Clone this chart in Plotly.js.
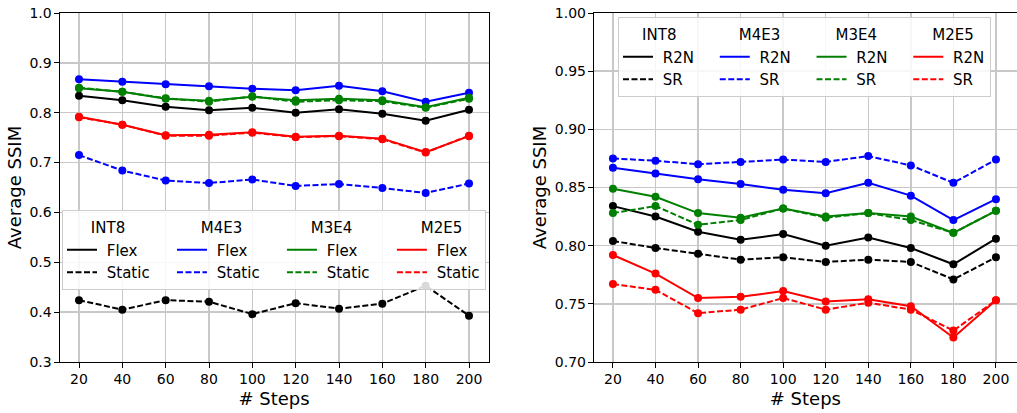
<!DOCTYPE html>
<html>
<head>
<meta charset="utf-8">
<script src="https://cdn.plot.ly/plotly-3.0.1.min.js"></script>
<style>html,body{margin:0;padding:0;background:#fff}#chart{width:1017px;height:413px}</style>
</head>
<body>
<div id="chart"></div>
<script>
// ---------- data ----------
var steps = [20, 40, 60, 80, 100, 120, 140, 160, 180, 200];
var formats = ['INT8', 'M4E3', 'M3E4', 'M2E5'];
var colors = ['#000000', '#0000ff', '#008000', '#ff0000'];

// left panel: Flex vs Static
var int8Flex   = [0.834, 0.825, 0.812, 0.805, 0.810, 0.800, 0.807, 0.798, 0.784, 0.806];
var int8Static = [0.424, 0.405, 0.424, 0.421, 0.396, 0.418, 0.407, 0.417, 0.453, 0.393];
var m4e3Flex   = [0.867, 0.862, 0.857, 0.853, 0.848, 0.845, 0.854, 0.843, 0.822, 0.840];
var m4e3Static = [0.715, 0.684, 0.664, 0.659, 0.666, 0.653, 0.657, 0.649, 0.639, 0.658];
var m3e4Flex   = [0.849, 0.842, 0.828, 0.824, 0.832, 0.825, 0.828, 0.825, 0.811, 0.830];
var m3e4Static = [0.850, 0.842, 0.829, 0.822, 0.833, 0.822, 0.825, 0.823, 0.810, 0.828];
var m2e5Flex   = [0.792, 0.776, 0.755, 0.756, 0.761, 0.752, 0.754, 0.748, 0.721, 0.753];
var m2e5Static = [0.791, 0.776, 0.754, 0.754, 0.760, 0.751, 0.753, 0.747, 0.720, 0.754];

// right panel: R2N vs SR
var int8R2N = [0.834, 0.825, 0.812, 0.805, 0.810, 0.800, 0.807, 0.798, 0.784, 0.806];
var int8SR  = [0.804, 0.798, 0.793, 0.788, 0.790, 0.786, 0.788, 0.786, 0.771, 0.790];
var m4e3R2N = [0.867, 0.862, 0.857, 0.853, 0.848, 0.845, 0.854, 0.843, 0.822, 0.840];
var m4e3SR  = [0.875, 0.873, 0.870, 0.872, 0.874, 0.872, 0.877, 0.869, 0.854, 0.874];
var m3e4R2N = [0.849, 0.842, 0.828, 0.824, 0.832, 0.825, 0.828, 0.825, 0.811, 0.830];
var m3e4SR  = [0.828, 0.834, 0.818, 0.822, 0.832, 0.824, 0.828, 0.822, 0.811, 0.830];
var m2e5R2N = [0.792, 0.776, 0.755, 0.756, 0.761, 0.752, 0.754, 0.748, 0.721, 0.753];
var m2e5SR  = [0.767, 0.762, 0.742, 0.745, 0.755, 0.745, 0.751, 0.745, 0.727, 0.753];

var leftSeries  = [[int8Flex, int8Static], [m4e3Flex, m4e3Static], [m3e4Flex, m3e4Static], [m2e5Flex, m2e5Static]];
var rightSeries = [[int8R2N, int8SR], [m4e3R2N, m4e3SR], [m3e4R2N, m3e4SR], [m2e5R2N, m2e5SR]];
var leftNames  = ['Flex', 'Static'];
var rightNames = ['R2N', 'SR'];

// ---------- traces ----------
var FONT = 'DejaVu Sans, sans-serif';
var DASH = '6px,2.5px';
var NB = '\u00a0';
function sp(n) { return new Array(n + 1).join(NB); }
var traces = [];

function addPanel(series, names, xa, ya, legendId, trail, titlePad) {
  series.forEach(function (pair, i) {
    pair.forEach(function (vals, j) {
      traces.push({
        x: steps, y: vals, xaxis: xa, yaxis: ya,
        type: 'scatter', mode: 'lines+markers',
        line: {color: colors[i], width: 2, dash: j === 0 ? 'solid' : DASH},
        marker: {color: colors[i], size: 8, symbol: 'circle'},
        showlegend: false, hoverinfo: 'x+y'
      });
    });
  });
  // legend-only entries (lines without markers, as in the reference)
  series.forEach(function (pair, i) {
    pair.forEach(function (vals, j) {
      var last = i === series.length - 1;
      var t = {
        x: [null], y: [null], xaxis: xa, yaxis: ya,
        type: 'scatter', mode: 'lines',
        name: NB + names[j] + (last ? '' : trail),
        line: {color: colors[i], width: 2, dash: j === 0 ? 'solid' : DASH},
        legend: legendId, legendgroup: legendId + formats[i], showlegend: true
      };
      if (j === 0) t.legendgrouptitle = {text: sp(titlePad) + formats[i], font: {family: FONT, size: 15, color: '#000'}};
      traces.push(t);
    });
  });
}
addPanel(leftSeries, leftNames, 'x', 'y', 'legend', sp(3) + '\u2009', 5);
addPanel(rightSeries, rightNames, 'x2', 'y2', 'legend2', sp(3) + '\u200a', 4);

// ---------- layout ----------
var W = 1017, ML = 59, MR = 0, MT = 13, MB = 51;
var PW = W - ML - MR, PH = 413 - MT - MB;
function px2x(p) { return (p - ML) / PW; }
function px2y(p) { return (413 - MB - p) / PH; }

var axCommon = {
  showline: true, linecolor: '#000', linewidth: 1,
  ticks: 'outside', ticklen: 5, tickwidth: 1, tickcolor: '#000',
  ticklabelstandoff: -1,
  showgrid: true, gridcolor: '#c8c8c8', gridwidth: 1.5,
  zeroline: false,
  tickfont: {family: FONT, size: 14, color: '#000'}
};
function ax(extra) { return Object.assign({}, axCommon, extra); }
var titleFont = {family: FONT, size: 18, color: '#000'};

var legCommon = {
  orientation: 'h', traceorder: 'grouped',
  bgcolor: 'rgba(255,255,255,0.85)', bordercolor: '#cccccc', borderwidth: 1,
  font: {family: FONT, size: 15, color: '#000'},
  xanchor: 'left', yanchor: 'top', tracegroupgap: 0
};

var layout = {
  width: W, height: 413,
  margin: {l: ML, r: MR, t: MT, b: MB, pad: 0},
  paper_bgcolor: '#fff', plot_bgcolor: '#fff',
  font: {family: FONT, color: '#000'},
  xaxis: ax({domain: [px2x(59.5), px2x(488.5)], range: [11, 209], tickvals: steps, mirror: true, anchor: 'y',
    title: {text: '# Steps', font: titleFont, standoff: 6}}),
  yaxis: ax({domain: [0, 1], range: [0.3, 1.0], dtick: 0.1, tickformat: '.1f', mirror: true, anchor: 'x',
    title: {text: 'Average SSIM', font: titleFont, standoff: 3}}),
  xaxis2: ax({domain: [px2x(593.8), 1], range: [11, 209.9], tickvals: steps, mirror: true, anchor: 'y2',
    title: {text: '# Steps', font: titleFont, standoff: 6}}),
  yaxis2: ax({domain: [0, 1], range: [0.70, 1.00], dtick: 0.05, tickformat: '.2f', mirror: false, anchor: 'x2',
    title: {text: 'Average SSIM', font: titleFont, standoff: 3}}),
  legend: Object.assign({}, legCommon, {x: px2x(62), y: px2y(210)}),
  legend2: Object.assign({}, legCommon, {x: px2x(618), y: px2y(17)}),
  showlegend: true
};

Plotly.newPlot('chart', traces, layout, {displayModeBar: false, staticPlot: true});
</script>
</body>
</html>
